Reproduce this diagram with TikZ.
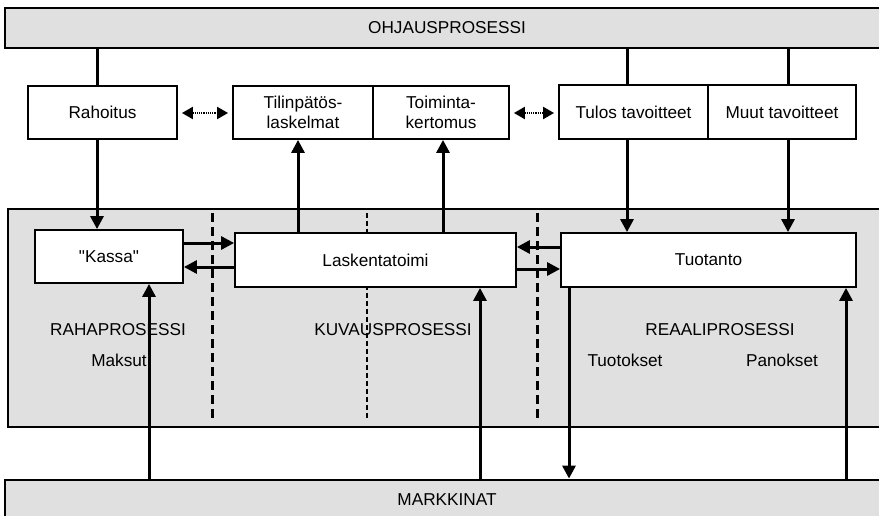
\documentclass[tikz,border=0pt]{standalone}
\usepackage{fontspec}
\setmainfont{Liberation Sans}[Ligatures=TeXOff]
\usetikzlibrary{arrows.meta}
\definecolor{procgray}{HTML}{E0E0E0}

\begin{document}
\begin{tikzpicture}[x=1pt,y=-1pt,
	font=\fontsize{17.2}{20.5}\selectfont,
	box/.style={draw,line width=1.8pt,fill=white,inner sep=0pt,align=center},
	bar/.style={draw,line width=2.8pt,fill=procgray,inner sep=0pt},
	arr/.style={line width=3pt,-{Triangle[length=13pt,width=13pt]}},
	link/.style={line width=3pt},
	dots/.style={line width=2pt,dash pattern=on 1.2pt off 1pt,shorten <=4pt,shorten >=4pt,
		{Triangle[length=11pt,width=12pt]}-{Triangle[length=11pt,width=12pt]}},
	divider/.style={line width=3pt,dash pattern=on 9pt off 5pt}]
		\clip (0,0) rectangle (879,516);
		% bars and the process area
		\node[bar,minimum width=884pt,minimum height=40pt] (ohjaus) at (447,28) {OHJAUSPROSESSI};
		\node[bar,minimum width=884pt,minimum height=40pt] (markkinat) at (447,500) {MARKKINAT};
		\draw[line width=2.8pt,fill=procgray] (8,209) rectangle (895,427);
		\draw[divider] (212,213) -- (212,420);
		\draw[divider,line width=2pt,dash pattern=on 5pt off 3pt] (367,213) -- (367,420);
		\draw[divider] (537,213) -- (537,420);
		\node (raha) at (118,330) {RAHAPROSESSI};
		\node (kuvaus) at (393,330) {KUVAUSPROSESSI};
		\node (reaali) at (720,330) {REAALIPROSESSI};
		\node (maksut) at (119,360) {Maksut};
		\node (tuotokset) at (625,360) {Tuotokset};
		\node (panokset) at (782,360) {Panokset};
		% boxes
		\node[box,minimum width=149pt,minimum height=53pt] (rahoitus) at (102.5,112.5) {Rahoitus};
		\node[box,minimum width=140pt,minimum height=53pt] (tilin) at (303,112.5) {Tilinpätös-\\laskelmat};
		\node[box,minimum width=136pt,minimum height=53pt] (toim) at (441,112.5) {Toiminta-\\kertomus};
		\node[box,minimum width=149pt,minimum height=54pt] (tulos) at (633.5,112) {Tulos tavoitteet};
		\node[box,minimum width=148pt,minimum height=54pt] (muut) at (782,112) {Muut tavoitteet};
		\node[box,minimum width=148pt,minimum height=53pt] (kassa) at (109,256.5) {"Kassa"};
		\node[box,minimum width=281pt,minimum height=54pt] (laskenta) at (375.5,260) {Laskentatoimi};
		\node[box,minimum width=295pt,minimum height=54pt] (tuotanto) at (708.5,260) {Tuotanto};
		% where the lines run
		\coordinate (xrah) at (97,0);
		\coordinate (xtil) at (298,0);
		\coordinate (xtoi) at (443,0);
		\coordinate (xtul) at (627,0);
		\coordinate (xmuu) at (788,0);
		\coordinate (xmak) at (149,0);
		\coordinate (xlas) at (480,0);
		\coordinate (xtuo) at (569,0);
		\coordinate (xpan) at (846,0);
		\coordinate (ydot) at (0,113);
		\coordinate (ykl) at (0,243);
		\coordinate (ylk) at (0,267);
		\coordinate (ytl) at (0,247);
		\coordinate (ylt) at (0,269);
		% connectors
		\draw[link] (xrah |- ohjaus.south) -- (xrah |- rahoitus.north);
		\draw[arr] (xrah |- rahoitus.south) -- (xrah |- kassa.north);
		\draw[link] (xtul |- ohjaus.south) -- (xtul |- tulos.north);
		\draw[arr] (xtul |- tulos.south) -- (xtul |- tuotanto.north);
		\draw[link] (xmuu |- ohjaus.south) -- (xmuu |- muut.north);
		\draw[arr] (xmuu |- muut.south) -- (xmuu |- tuotanto.north);
		\draw[arr] (xtil |- laskenta.north) -- (xtil |- tilin.south);
		\draw[arr] (xtoi |- laskenta.north) -- (xtoi |- toim.south);
		\draw[dots] (rahoitus.east |- ydot) -- (tilin.west |- ydot);
		\draw[dots] (toim.east |- ydot) -- (tulos.west |- ydot);
		\draw[arr] (kassa.east |- ykl) -- (laskenta.west |- ykl);
		\draw[arr] (laskenta.west |- ylk) -- (kassa.east |- ylk);
		\draw[arr] (tuotanto.west |- ytl) -- (laskenta.east |- ytl);
		\draw[arr] (laskenta.east |- ylt) -- (tuotanto.west |- ylt);
		\draw[arr] (xmak |- markkinat.north) -- (xmak |- kassa.south);
		\draw[arr] (xlas |- markkinat.north) -- (xlas |- laskenta.south);
		\draw[arr] (xtuo |- tuotanto.south) -- (xtuo |- markkinat.north);
		\draw[arr] (xpan |- markkinat.north) -- (xpan |- tuotanto.south);
\end{tikzpicture}
\end{document}
